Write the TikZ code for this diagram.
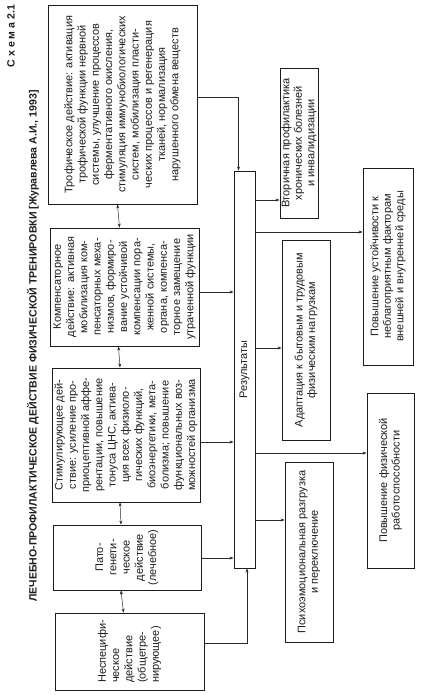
\documentclass[tikz,border=0pt]{standalone}
\usepackage{fontspec}
\setmainfont{Liberation Sans}
\usetikzlibrary{arrows.meta,backgrounds}
\definecolor{ink}{HTML}{1C1C1C}
\definecolor{linegray}{HTML}{2A2A2A}
\tikzset{
  box/.style={
    draw=ink,
    fill=white,
    text=ink,
    line width=0.9pt,
    rotate=90,
    align=center,
    inner xsep=2pt,
    inner ysep=1pt,
    font=\fontsize{11}{13.3}\selectfont
  },
  effect/.style={box},
  effectleft/.style={box,align=left},
  resultbar/.style={box,inner sep=0pt},
  outcome/.style={box,font=\fontsize{11}{12.6}\selectfont},
  titletext/.style={
    rotate=90,
    text=ink,
    inner sep=0pt,
    font=\fontsize{10.6}{12}\selectfont\bfseries
  },
  flow/.style={
    -{Stealth[length=4bp,width=3bp]},
    draw=linegray,
    line width=0.5pt
  },
  pairflow/.style={
    flow,
    {Stealth[length=4bp,width=3bp]}-{Stealth[length=4bp,width=3bp]}
  }
}

\begin{document}
\begin{tikzpicture}[x=1bp,y=-1bp]

  \useasboundingbox (0,0) rectangle (422,695);

  % Heading along the left margin.
  \node[titletext] (scheme) at (11,36) {С х е м а 2.1};
  \node[titletext] (title) at (33,346)
    {ЛЕЧЕБНО-ПРОФИЛАКТИЧЕСКОЕ ДЕЙСТВИЕ ФИЗИЧЕСКОЙ ТРЕНИРОВКИ [Журавлева А.И., 1993]};

  % Column of the five kinds of action.
  \node[effect,minimum width=199bp,minimum height=149bp] (trophic) at (122.5,104.5)
    {Трофическое действие: активация\\трофической функции нервной\\системы, улучшение процессов\\ферментативного окисления,\\стимуляция иммунобиологических\\систем, мобилизация пласти-\\ческих процессов и регенерация\\тканей, нормализация\\нарушенного обмена веществ};

  \node[effect,minimum width=118bp,minimum height=149bp] (compens) at (124.5,287)
    {Компенсаторное\\действие: активная\\мобилизация ком-\\пенсаторных меха-\\низмов, формиро-\\вание устойчивой\\компенсации пора-\\женной системы,\\органа, компенса-\\торное замещение\\утраченной функции};

  \node[effect,minimum width=134bp,minimum height=148bp] (stimul) at (126,435)
    {Стимулирующее дей-\\ствие: усиление про-\\приоцептивной аффе-\\рентации, повышение\\тонуса ЦНС, актива-\\ция всех физиоло-\\гических функций,\\биоэнергетики, мета-\\болизма; повышение\\функциональных воз-\\можностей организма};

  \node[effect,minimum width=65bp,minimum height=148bp] (pathogen) at (127,557.5)
    {Пато-\\генети-\\ческое\\действие\\(лечебное)};

  \node[effectleft,minimum width=77bp,minimum height=149bp] (nonspec) at (129.5,651.5)
    {Неспецифи-\\ческое\\действие\\(общетре-\\нирующее)};

  % Central bar.
  \node[resultbar,minimum width=397bp,minimum height=21bp] (results) at (244.5,369.5)
    {Результаты};

  % Outcomes on the right.
  \node[outcome,minimum width=150bp,minimum height=38bp] (secondary) at (299,143)
    {Вторичная профилактика\\хронических болезней\\и инвалидизации};

  \node[outcome,minimum width=197bp,minimum height=50bp] (resist) at (388,266.5)
    {Повышение устойчивости к\\неблагоприятным факторам\\внешней и внутренней среды};

  \node[outcome,minimum width=200bp,minimum height=48bp] (adapt) at (306,340)
    {Адаптация к бытовым и трудовым\\физическим нагрузкам};

  \node[outcome,minimum width=175bp,minimum height=47bp] (capacity) at (390.5,480.5)
    {Повышение физической\\работоспособности};

  \node[outcome,minimum width=180bp,minimum height=48bp] (relief) at (309,552)
    {Психоэмоциональная разгрузка\\и переключение};

  \begin{scope}[on background layer]
    % Mutual links inside the column.
    \draw[pairflow] ([xshift=-5bp]trophic.west) -- ([xshift=-5bp]compens.east);
    \draw[pairflow] ([xshift=-6bp]compens.west) -- ([xshift=-6bp]stimul.east);
    \draw[pairflow] ([xshift=-6bp]stimul.west) -- ([xshift=-6bp]pathogen.east);
    \draw[pairflow] ([xshift=-6bp]pathogen.west) -- ([xshift=-6bp]nonspec.east);

    % Every action feeds the results.
    \draw[flow] (trophic.south |- 0,97) -| ([xshift=-6bp]results.east);
    \draw[flow] (compens.south |- 0,292) -- (results.north |- 0,292);
    \draw[flow] (stimul.south |- 0,442) -- (results.north |- 0,442);
    \draw[flow] (pathogen.south |- 0,558) -- (results.north |- 0,558);
    \draw[flow] (nonspec.south |- 0,643) -| ([xshift=2.5bp]results.west);

    % Results lead to the outcomes.
    \draw[flow] (results.south |- 0,200) -- (secondary.north |- 0,200);
    \draw[flow] (results.south |- 0,232) -- (resist.north |- 0,232);
    \draw[flow] (results.south |- 0,348) -- (adapt.north |- 0,348);
    \draw[flow] (results.south |- 0,453) -- (capacity.north |- 0,453);
    \draw[flow] (results.south |- 0,520) -- (relief.north |- 0,520);
  \end{scope}

\end{tikzpicture}
\end{document}
